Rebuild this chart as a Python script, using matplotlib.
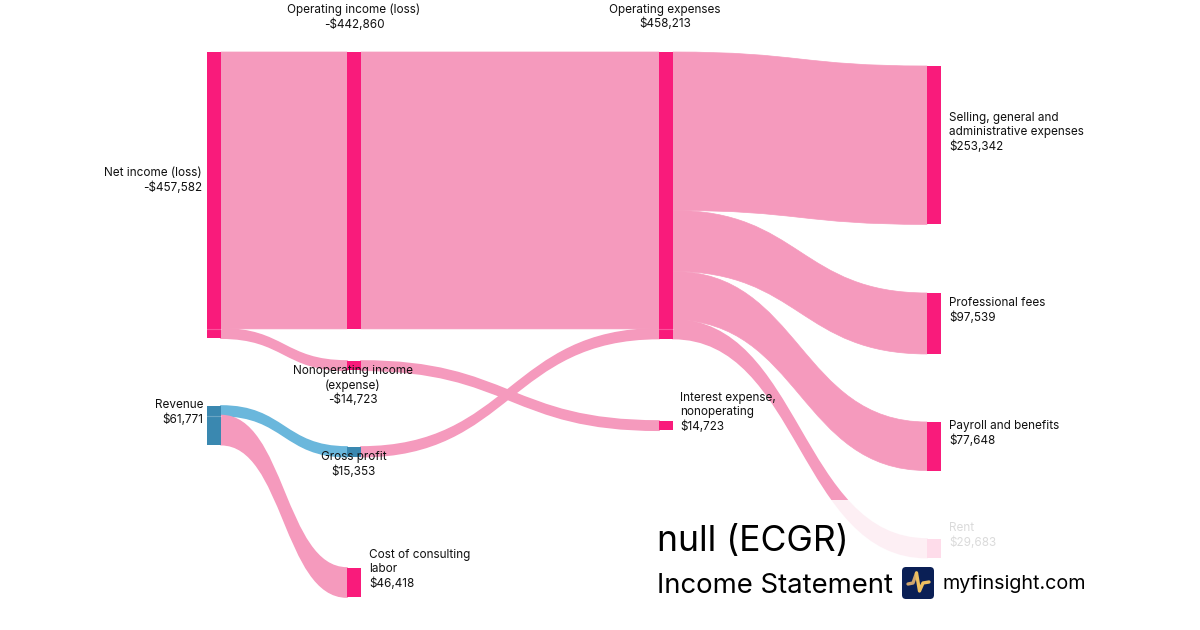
import matplotlib
matplotlib.use('agg')
import matplotlib.pyplot as plt
from matplotlib.path import Path
from matplotlib.patches import PathPatch, Rectangle, FancyBboxPatch

plt.rcParams['font.family'] = ['Inter', 'DejaVu Sans']

# nodes
names = ['Net income (loss)', 'Operating income (loss)', 'Nonoperating income\n(expense)',
         'Revenue', 'Gross profit', 'Cost of consulting\nlabor', 'Operating expenses',
         'Interest expense,\nnonoperating', 'Selling, general and\nadministrative expenses',
         'Professional fees', 'Payroll and benefits', 'Rent']
amounts = ['-$457,582', '-$442,860', '-$14,723', '$61,771', '$15,353', '$46,418', '$458,213',
           '$14,723', '$253,342', '$97,539', '$77,648', '$29,683']
values = [457582, 442860, 14723, 61771, 15353, 46418, 458213, 14723, 253342, 97539, 77648, 29683]

# links
sources = [0, 0, 1, 2, 3, 3, 4, 6, 6, 6, 6]
targets = [1, 2, 6, 7, 4, 5, 6, 8, 9, 10, 11]
flows = [442860, 14723, 442860, 14723, 15353, 46418, 15353, 253342, 97539, 77648, 29683]

# layout, in pixels
columns = [207, 347, 347, 207, 347, 347, 659, 659, 927, 927, 927, 927]
tops = [52, 52, 361, 406, 447, 568, 52, 421, 66, 293, 422, 539]
node_w = 14
scale = 286.5 / 458213
PINK, PINK_LINK = '#f91b7b', '#f59abd'
BLUE, BLUE_LINK = '#3a88b0', '#6ab7dc'
blue_nodes = [3, 4]
blue_links = [4]

fig = plt.figure(figsize=(12, 6.3), dpi=100)
ax = fig.add_axes([0, 0, 1, 1])
ax.set_xlim(0, 1200)
ax.set_ylim(630, 0)
ax.axis('off')

out_off = [0.0] * len(values)
in_off = [0.0] * len(values)
seams = []
for k, (s, t, v) in enumerate(zip(sources, targets, flows)):
    h = v * scale
    x0 = columns[s] + node_w
    x1 = columns[t]
    y0 = tops[s] + out_off[s]
    y1 = tops[t] + in_off[t]
    # a faint line shows inside a node where two links meet
    if out_off[s] > 0 and s != 6:
        seams.append((columns[s], y0))
    if in_off[t] > 0:
        seams.append((columns[t], y1))
    out_off[s] += h
    in_off[t] += h
    xm = (x0 + x1) / 2
    verts = [(x0, y0), (xm, y0), (xm, y1), (x1, y1),
             (x1, y1 + h), (xm, y1 + h), (xm, y0 + h), (x0, y0 + h), (x0, y0)]
    codes = [Path.MOVETO, Path.CURVE4, Path.CURVE4, Path.CURVE4,
             Path.LINETO, Path.CURVE4, Path.CURVE4, Path.CURVE4, Path.CLOSEPOLY]
    color = BLUE_LINK if k in blue_links else PINK_LINK
    lw = 1.2 if h < 40 else 0.5
    ax.add_patch(PathPatch(Path(verts, codes), fc=color, ec=color, lw=lw, zorder=1))

for i, v in enumerate(values):
    color = BLUE if i in blue_nodes else PINK
    ax.add_patch(Rectangle((columns[i], tops[i]), node_w, v * scale, fc=color, ec='none', zorder=2))

for x, y in seams:
    ax.plot([x, x + node_w], [y, y], color='white', alpha=0.25, lw=0.8, zorder=2.5)

# labels: x, top of first line, alignment
label_pos = [(202, 167.5, 'right'), (354, 3.5, 'center'), (353, 365, 'center'), (203, 399, 'right'),
             (354, 451, 'center'), (369, 549, 'left'), (665, 3.5, 'center'), (680, 392, 'left'),
             (949, 112.5, 'left'), (949, 297, 'left'), (949, 420, 'left'), (949, 522, 'left')]
for name, amt, (x, y, ha) in zip(names, amounts, label_pos):
    ax.text(x, y, name + '\n' + amt, ha=ha, va='top', fontsize=8.45, color='#111111',
            linespacing=1.22, zorder=3, multialignment=ha)

# white veil behind the title block
ax.add_patch(Rectangle((640, 500), 460, 130, fc='white', ec='none', alpha=0.85, zorder=4))

ax.text(657, 541, 'null (ECGR)', fontsize=25.6, va='center', ha='left', color='black', zorder=5)
ax.text(657, 586, 'Income Statement', fontsize=19.8, va='center', ha='left', color='black', zorder=5)
ax.text(942, 584, 'myfinsight.com', fontsize=14.2, va='center', ha='left', color='black', zorder=5)

# logo
ax.add_patch(FancyBboxPatch((906, 571), 24, 24, boxstyle='round,pad=4,rounding_size=4',
                            fc='#0a1f55', ec='none', zorder=5))
ax.plot([908, 913, 916.5], [584, 583, 573], color='#cfa56c', lw=2.4,
        solid_capstyle='round', solid_joinstyle='round', zorder=6)
ax.plot([916.5, 919.5, 923, 929], [573, 591, 583, 582], color='#efc060', lw=2.4,
        solid_capstyle='round', solid_joinstyle='round', zorder=6)

fig.savefig('out.png', dpi=100)
